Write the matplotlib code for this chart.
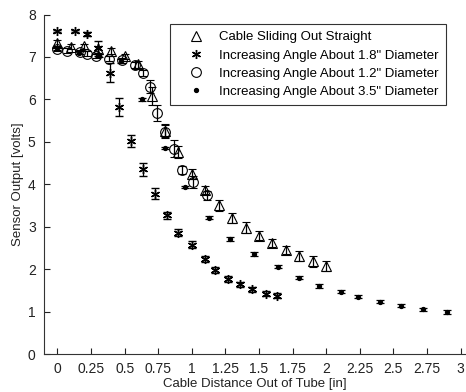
import numpy as np
import matplotlib
matplotlib.use('Agg')
import matplotlib.pyplot as plt
from matplotlib.lines import Line2D

plt.rcParams['font.family'] = ['Liberation Sans', 'DejaVu Sans']

# Cable Sliding Out Straight (triangles)
straightX = [0, 0.1, 0.2, 0.3, 0.4, 0.5, 0.6, 0.7, 0.8, 0.9, 1.0, 1.1, 1.2, 1.3, 1.4, 1.5, 1.6, 1.7, 1.8, 1.9, 2.0]
straightY = [7.33, 7.24, 7.25, 7.18, 7.14, 7.02, 6.83, 6.08, 5.26, 4.77, 4.24, 3.87, 3.50, 3.20, 2.98, 2.79, 2.62, 2.45, 2.30, 2.18, 2.08]
straightErr = [0.08, 0.06, 0.06, 0.08, 0.06, 0.06, 0.08, 0.22, 0.15, 0.14, 0.12, 0.1, 0.12, 0.12, 0.12, 0.1, 0.1, 0.1, 0.12, 0.12, 0.12]

# Increasing Angle About 1.8" Diameter (asterisks)
d18X = [0, 0.13, 0.22, 0.30, 0.39, 0.46, 0.55, 0.64, 0.725, 0.815, 0.90, 1.0, 1.095, 1.175, 1.27, 1.36, 1.45, 1.555, 1.63]
d18Y = [7.61, 7.61, 7.54, 7.20, 6.63, 5.82, 5.02, 4.35, 3.78, 3.27, 2.86, 2.58, 2.23, 1.97, 1.77, 1.64, 1.52, 1.42, 1.37]
d18Err = [0.03, 0.03, 0.05, 0.18, 0.22, 0.21, 0.15, 0.15, 0.12, 0.08, 0.08, 0.08, 0.07, 0.07, 0.07, 0.06, 0.06, 0.06, 0.06]

# Increasing Angle About 1.2" Diameter (circles)
d12X = [0, 0.07, 0.165, 0.22, 0.285, 0.385, 0.48, 0.58, 0.64, 0.685, 0.74, 0.80, 0.87, 0.93, 1.01, 1.11]
d12Y = [7.18, 7.15, 7.11, 7.08, 7.02, 6.96, 6.92, 6.81, 6.62, 6.30, 5.68, 5.24, 4.84, 4.34, 4.05, 3.74]
d12Err = [0.05, 0.05, 0.05, 0.05, 0.05, 0.06, 0.06, 0.06, 0.08, 0.16, 0.18, 0.15, 0.2, 0.1, 0.15, 0.1]

# Increasing Angle About 3.5" Diameter (dots)
d35X = [0, 0.16, 0.31, 0.47, 0.63, 0.80, 0.947, 1.13, 1.287, 1.46, 1.64, 1.80, 1.947, 2.108, 2.24, 2.40, 2.56, 2.72, 2.895]
d35Y = [7.2, 7.1, 7.03, 6.9, 6.0, 4.85, 3.94, 3.21, 2.71, 2.36, 2.06, 1.80, 1.60, 1.47, 1.35, 1.23, 1.14, 1.05, 0.99]
d35Err = [0.04, 0.04, 0.04, 0.04, 0.03, 0.03, 0.03, 0.04, 0.04, 0.04, 0.04, 0.04, 0.04, 0.04, 0.04, 0.04, 0.03, 0.04, 0.04]

xTicks = [0, 0.25, 0.5, 0.75, 1, 1.25, 1.5, 1.75, 2, 2.25, 2.5, 2.75, 3]
xTickLabels = ['0', '0.25', '0.5', '0.75', '1', '1.25', '1.5', '1.75', '2', '2.25', '2.5', '2.75', '3']
yTicks = [0, 1, 2, 3, 4, 5, 6, 7, 8]

legendLabels = ['Cable Sliding Out Straight',
                'Increasing Angle About 1.8" Diameter',
                'Increasing Angle About 1.2" Diameter',
                'Increasing Angle About 3.5" Diameter']

fig = plt.figure(figsize=(4.66, 3.92), dpi=100)
ax = fig.add_axes([44 / 466, 38 / 392, 1 - 44 / 466, (354 - 14.5) / 392])

errKw = dict(linestyle='none', color='black', ecolor='black', elinewidth=0.9, capsize=3, capthick=0.9)
ax.errorbar(straightX, straightY, yerr=straightErr, marker='^', markersize=7.5,
            markerfacecolor='none', markeredgecolor='black', markeredgewidth=0.8, **errKw)
ax.errorbar(d18X, d18Y, yerr=d18Err, marker=(6, 2, 0), markersize=6.5,
            markeredgecolor='black', markeredgewidth=1.0, **errKw)
ax.errorbar(d12X, d12Y, yerr=d12Err, marker='o', markersize=7,
            markerfacecolor='none', markeredgecolor='black', markeredgewidth=0.8, **errKw)
ax.errorbar(d35X, d35Y, yerr=d35Err, marker='o', markersize=2.8,
            markerfacecolor='black', markeredgecolor='black', **errKw)

ax.set_xlim(-0.1, 3.04)
ax.set_ylim(0, 8)
ax.set_xticks(xTicks)
ax.set_xticklabels(xTickLabels)
ax.set_yticks(yTicks)
ax.tick_params(direction='in', length=4, width=0.8, labelsize=10, colors='#222222', pad=6)
ax.spines['top'].set_visible(False)
ax.spines['right'].set_visible(False)
for s in ['left', 'bottom']:
    ax.spines[s].set_linewidth(0.8)
    ax.spines[s].set_color('#333333')

ax.set_xlabel('Cable Distance Out of Tube [in]', fontsize=9.5, labelpad=1, color='#222222')
ax.set_ylabel('Sensor Output [volts]', fontsize=9.5, labelpad=3, color='#222222')

handles = [
    Line2D([], [], linestyle='none', marker='^', markersize=7.5, markerfacecolor='none',
           markeredgecolor='black', markeredgewidth=0.8),
    Line2D([], [], linestyle='none', marker=(6, 2, 0), markersize=6.5, markeredgecolor='black'),
    Line2D([], [], linestyle='none', marker='o', markersize=7, markerfacecolor='none',
           markeredgecolor='black', markeredgewidth=0.8),
    Line2D([], [], linestyle='none', marker='o', markersize=2.8, markerfacecolor='black',
           markeredgecolor='black'),
]
leg = fig.legend(handles, legendLabels, loc='upper left', bbox_to_anchor=(170 / 466, 1 - 24 / 392),
                 bbox_transform=fig.transFigure, fontsize=9.5, frameon=True, fancybox=False,
                 borderaxespad=0, handlelength=2.8, handletextpad=0.4, labelspacing=0.45,
                 borderpad=0.55)
leg.get_frame().set_edgecolor('black')
leg.get_frame().set_linewidth(0.8)

fig.savefig('out.png', dpi=100)
